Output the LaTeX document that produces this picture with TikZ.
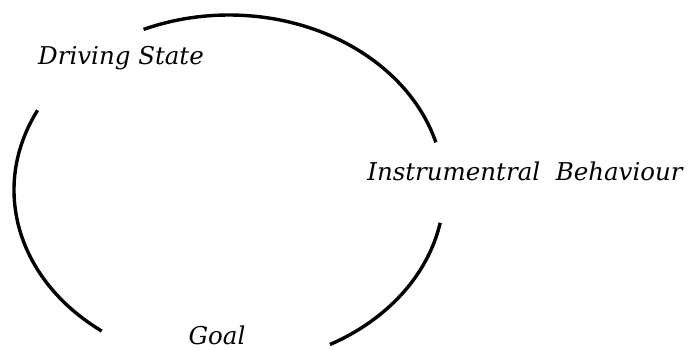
\documentclass[tikz,border=0pt]{standalone}
\usepackage{fontspec}
\setmainfont{DejaVu Serif}
\usepackage{tikz}

\begin{document}
\begin{tikzpicture}[x=1pt,y=1pt,
  lbl/.style={anchor=base,font=\fontsize{24.5}{28}\selectfont\itshape,inner sep=0pt},
  cyc/.style={line width=3.4pt}]
\useasboundingbox (0,0) rectangle (696,349);
\coordinate (c) at (229,159);
\node[lbl] (ds) at (121,285) {Driving State};
\node[lbl] (ib) at (525,169) {Instrumentral\ \ Behaviour};
\node[lbl] (goal) at (217,5) {Goal};
\draw[cyc] (c) ++(113.4:215pt and 175pt) arc[start angle=113.4,end angle=15.8,x radius=215pt,y radius=175pt];
\draw[cyc] (c) ++(-10.8:215pt and 175pt) arc[start angle=-10.8,end angle=-62,x radius=215pt,y radius=175pt];
\draw[cyc] (c) ++(152.9:215pt and 175pt) arc[start angle=152.9,end angle=233.7,x radius=215pt,y radius=175pt];
\end{tikzpicture}
\end{document}
